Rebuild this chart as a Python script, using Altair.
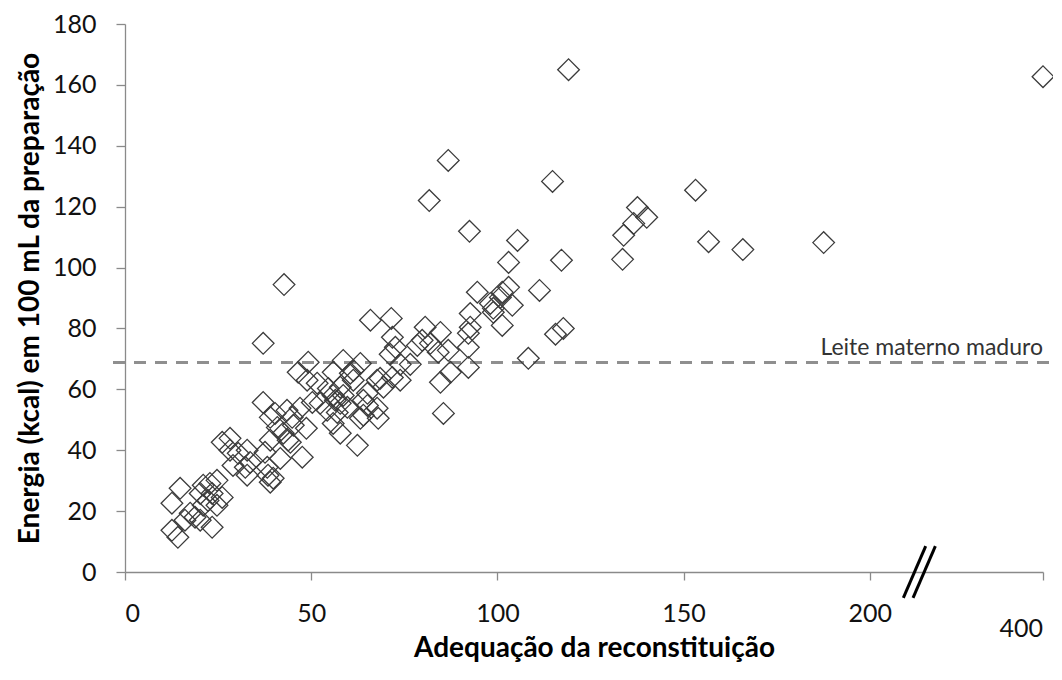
import altair as alt
import pandas as pd

# ---- data ----
adequacao = [
    12.6, 14.2, 12.6, 14.8, 17.5, 16.1, 18.8, 20.2, 21.0, 22.8, 24.7, 23.4, 26.1, 21.0, 24.7, 23.4, 20.2, 22.3,
    26.1, 28.2, 28.2, 30.4, 29.0, 32.8, 32.3, 33.6, 32.8, 37.6, 38.2, 41.7, 44.4, 47.6, 38.4, 39.0, 39.8,
    37.1, 40.3, 43.5, 44.9, 39.0, 40.9, 45.2, 42.5, 43.8, 39.0, 48.7, 47.0, 50.3, 52.4, 54.3, 57.8, 56.5,
    55.9, 58.6, 59.7, 57.0, 55.9, 57.8, 63.2, 62.4, 65.1, 65.1, 54.6, 57.8, 61.3, 60.5, 55.9, 58.6, 63.2,
    67.7, 49.2, 46.5, 48.9, 51.6, 64.0, 67.7, 64.0, 68.0, 61.3,
    65.9, 71.5, 80.6, 84.7, 71.8, 72.6, 79.8, 82.0, 84.1, 86.8, 78.5, 71.2, 73.9, 76.6, 92.2, 87.4, 84.7,
    71.8, 73.9, 68.5, 69.4, 85.5, 92.2, 92.2,
    94.6, 103.0, 101.3, 98.1, 100.8, 104.0, 98.9, 92.7, 98.9, 101.3, 92.7, 108.3, 115.6, 117.7, 111.3,
    103.0, 117.2, 105.4, 92.5, 81.7, 86.8, 114.8, 119.1, 400.0, 153.2, 137.6, 140.1, 136.6, 133.9, 133.6,
    156.7, 165.9, 187.6, 37.1, 42.7,
]
energia = [
    13.7, 11.4, 22.6, 27.5, 19.3, 17.0, 18.0, 25.8, 28.5, 29.1, 30.1, 25.8, 24.5, 21.9, 21.9, 14.7, 17.0, 23.5,
    42.6, 43.9, 40.0, 39.0, 35.0, 40.0, 34.4, 36.0, 31.8, 39.3, 34.4, 37.3, 42.6, 37.7, 31.8, 29.5, 30.8,
    55.7, 52.1, 53.1, 50.8, 50.8, 47.5, 48.2, 45.6, 43.3, 43.3, 47.2, 53.8, 55.7, 55.4, 53.1, 55.4, 56.4,
    58.0, 58.0, 54.1, 52.4, 48.8, 45.6, 50.5, 41.6, 58.7, 54.7, 60.3, 60.7, 63.0, 65.3, 65.6, 69.5, 68.5,
    63.0, 68.9, 65.6, 63.0, 62.0, 56.4, 53.8, 51.5, 50.5, 66.2,
    82.7, 83.3, 80.4, 78.7, 77.1, 73.8, 76.1, 75.1, 72.2, 72.8, 74.4, 71.5, 68.2, 68.2, 67.2, 65.6, 62.3,
    63.9, 63.0, 63.6, 60.7, 52.1, 78.4, 73.8,
    91.9, 93.5, 91.9, 88.2, 90.2, 87.6, 86.6, 84.9, 85.3, 81.0, 80.4, 70.2, 78.1, 80.0, 92.5,
    101.7, 102.4, 108.9, 111.9, 122.0, 135.2, 128.3, 165.0, 162.7, 125.4, 119.7, 116.5, 114.5, 110.6, 102.7,
    108.5, 105.9, 108.2, 75.1, 94.4,
]
leite_materno = 68.8
leite_label = "Leite materno maduro"
x_ticks = [0, 50, 100, 150, 200]
break_label = "400"

# ---- layout constants ----
W, H = 918, 548
X_MAX = 246.5          # axis end, where the broken-axis value (400) is drawn
FONT = "Lato"

df = pd.DataFrame({"adequacao": adequacao, "energia": energia})
df["xpos"] = df["adequacao"].where(df["adequacao"] < 300, X_MAX)

xscale = alt.Scale(domain=[0, X_MAX], nice=False, zero=False)
yscale = alt.Scale(domain=[0, 180], nice=False)

points = alt.Chart(df).mark_point(
    shape="diamond", filled=False, size=470, stroke="#3c3c3c", strokeWidth=1.3, opacity=1
).encode(
    x=alt.X("xpos:Q", scale=xscale,
            axis=alt.Axis(values=x_ticks + [X_MAX],
                          labelExpr="datum.value > 240 ? '' : datum.label",
                          title="Adequação da reconstituição",
                          titleX=469, titleY=76, titleBaseline="middle",
                          titleFontSize=28, titleFontWeight="bold", titleFont=FONT,
                          labelFontSize=25, labelPadding=21, tickSize=8, labelFont=FONT,
                          grid=False)),
    y=alt.Y("energia:Q", scale=yscale,
            axis=alt.Axis(values=list(range(0, 181, 20)),
                          title="Energia (kcal) em 100 mL da preparação",
                          titleX=-95, titleY=H / 2, titleBaseline="middle",
                          titleFontSize=28, titleFontWeight="bold", titleFont=FONT,
                          labelFontSize=25, labelPadding=20, tickSize=9, labelFont=FONT,
                          grid=False)),
)

ref = pd.DataFrame({"v": [leite_materno], "lab": [leite_label]})
hline = alt.Chart(ref).mark_rule(
    color="#8f8f8f", strokeWidth=3, strokeDash=[12, 9]
).encode(y=alt.Y("v:Q", scale=yscale), x=alt.value(-12), x2=alt.value(W + 14))

hlabel = alt.Chart(ref).mark_text(
    align="right", baseline="bottom", dy=-3, fontSize=23, font=FONT, color="#333333"
).encode(y=alt.Y("v:Q", scale=yscale), x=alt.value(W), text="lab:N")

lab400 = alt.Chart(pd.DataFrame({"t": [break_label]})).mark_text(
    align="right", baseline="middle", fontSize=25, font=FONT, color="#111111"
).encode(x=alt.value(W), y=alt.value(H + 57), text="t:N")

brk = pd.DataFrame({"x1": [209.0, 211.6], "x2": [215.0, 217.6], "y1": [-8.5, -8.5], "y2": [8.5, 8.5]})
breakmark = alt.Chart(brk).mark_rule(color="#000000", strokeWidth=3).encode(
    x=alt.X("x1:Q", scale=xscale), x2="x2:Q",
    y=alt.Y("y1:Q", scale=yscale), y2="y2:Q",
)

chart = alt.layer(hline, points, hlabel, lab400, breakmark).properties(
    width=W, height=H,
    autosize=alt.AutoSizeParams(type="none"),
    padding={"left": 117, "top": 16, "right": 10, "bottom": 100},
    background="white",
).configure_view(stroke=None).configure_axis(
    domainColor="#8a8a8a", tickColor="#8a8a8a", domainWidth=1.3, tickWidth=1.3,
    labelColor="#111111", titleColor="#000000", labelFont=FONT, titleFont=FONT,
)

chart.save("out.html", embed_options={"renderer": "svg", "actions": False})
